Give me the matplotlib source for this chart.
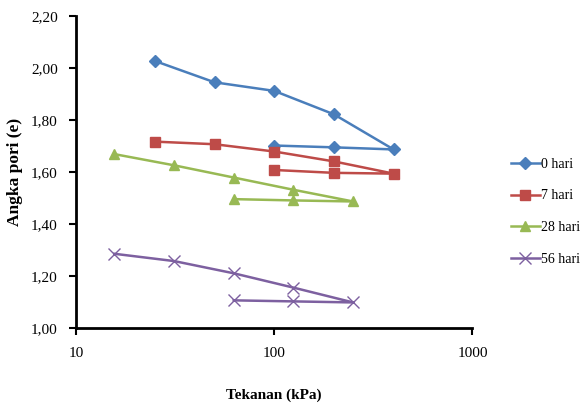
import matplotlib
matplotlib.use("Agg")
import matplotlib.pyplot as plt
from matplotlib.ticker import FuncFormatter, FixedLocator, NullLocator

plt.rcParams['font.family'] = ['Liberation Serif', 'DejaVu Serif']

# loading path (kPa) and void ratio for each curing age
p_0 = [25, 50, 100, 200, 400, 200, 100]
e_0 = [2.028, 1.946, 1.913, 1.823, 1.688, 1.696, 1.703]

p_7 = [25, 50, 100, 200, 400, 200, 100]
e_7 = [1.718, 1.708, 1.680, 1.642, 1.595, 1.598, 1.609]

p_28 = [15.625, 31.25, 62.5, 125, 250, 125, 62.5]
e_28 = [1.670, 1.627, 1.580, 1.533, 1.488, 1.492, 1.497]

p_56 = [15.625, 31.25, 62.5, 125, 250, 125, 62.5]
e_56 = [1.287, 1.259, 1.212, 1.157, 1.100, 1.104, 1.108]

labels = ['0 hari', '7 hari', '28 hari', '56 hari']
colors = ['#4A7EBB', '#BE4B48', '#98B954', '#7D60A0']

fig = plt.figure(figsize=(5.84, 4.05), dpi=100)
ax = fig.add_axes([0.130, 0.189, 0.679, 0.771])

ax.plot(p_0, e_0, color=colors[0], lw=1.8, marker='D', ms=6, label=labels[0])
ax.plot(p_7, e_7, color=colors[1], lw=1.8, marker='s', ms=7.5, label=labels[1])
ax.plot(p_28, e_28, color=colors[2], lw=1.8, marker='^', ms=7.5, label=labels[2])
ax.plot(p_56, e_56, color=colors[3], lw=1.8, marker='x', ms=8, mew=1.0, label=labels[3])

ax.set_xscale('log')
ax.set_xlim(10, 1000)
ax.set_ylim(1.0, 2.2)
ax.xaxis.set_major_locator(FixedLocator([10, 100, 1000]))
ax.xaxis.set_minor_locator(NullLocator())
ax.xaxis.set_major_formatter(FuncFormatter(lambda v, pos: '%d' % v))
ax.set_yticks([1.0, 1.2, 1.4, 1.6, 1.8, 2.0, 2.2])
ax.yaxis.set_major_formatter(FuncFormatter(lambda v, pos: ('%.2f' % v).replace('.', ',')))

for side in ['top', 'right']:
    ax.spines[side].set_visible(False)
for side in ['left', 'bottom']:
    ax.spines[side].set_linewidth(2)
ax.tick_params(axis='both', direction='out', length=5, width=1.5, labelsize=11, pad=8)

ax.set_xlabel('Tekanan (kPa)', fontsize=11, fontweight='bold', labelpad=21)
ax.set_ylabel('Angka pori (e)', fontsize=12.5, fontweight='bold', labelpad=6)

fig.legend(loc='center left', bbox_to_anchor=(0.853, 0.477), frameon=False,
           fontsize=10, handlelength=2.1, handletextpad=0.1, labelspacing=1.35)

fig.savefig('out.png', dpi=100)
